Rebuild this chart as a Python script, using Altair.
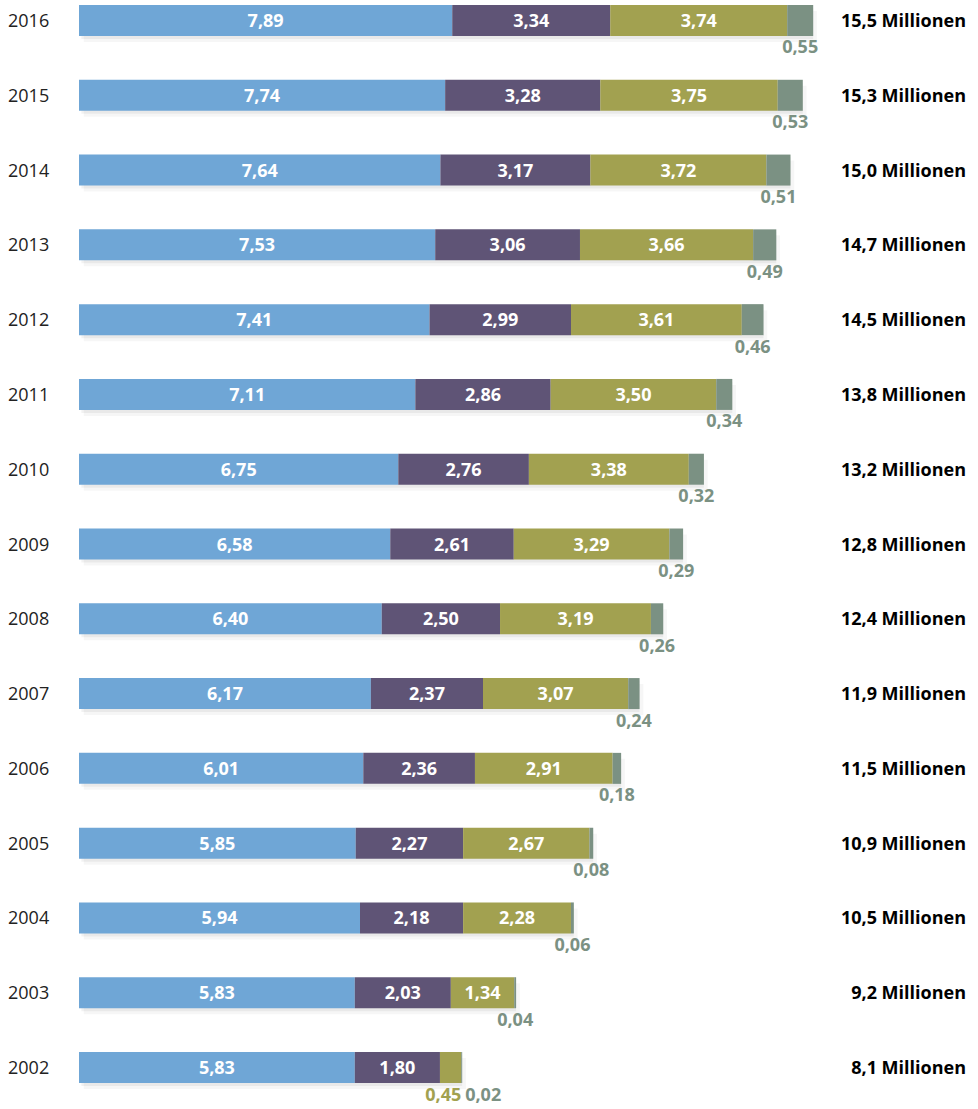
import altair as alt
import pandas as pd

years = ["2016", "2015", "2014", "2013", "2012", "2011", "2010", "2009",
         "2008", "2007", "2006", "2005", "2004", "2003", "2002"]
seg1 = [7.89, 7.74, 7.64, 7.53, 7.41, 7.11, 6.75, 6.58, 6.40, 6.17, 6.01, 5.85, 5.94, 5.83, 5.83]
seg2 = [3.34, 3.28, 3.17, 3.06, 2.99, 2.86, 2.76, 2.61, 2.50, 2.37, 2.36, 2.27, 2.18, 2.03, 1.80]
seg3 = [3.74, 3.75, 3.72, 3.66, 3.61, 3.50, 3.38, 3.29, 3.19, 3.07, 2.91, 2.67, 2.28, 1.34, 0.45]
seg4 = [0.55, 0.53, 0.51, 0.49, 0.46, 0.34, 0.32, 0.29, 0.26, 0.24, 0.18, 0.08, 0.06, 0.04, 0.02]
totals = [15.5, 15.3, 15.0, 14.7, 14.5, 13.8, 13.2, 12.8, 12.4, 11.9, 11.5, 10.9, 10.5, 9.2, 8.1]

segments = ["A", "B", "C", "D"]
colors = ["#6fa6d6", "#5f5476", "#a2a150", "#7b9183"]

def de(v, d=2):
    return f"{v:.{d}f}".replace(".", ",")

rows = []
for i, y in enumerate(years):
    start = 0.0
    for s, vals in zip(segments, [seg1, seg2, seg3, seg4]):
        v = vals[i]
        rows.append({"year": y, "seg": s, "value": v, "start": start,
                     "end": start + v, "mid": start + v / 2, "label": de(v),
                     "order": i})
        start += v
df = pd.DataFrame(rows)

tot_df = pd.DataFrame({"year": years,
                       "sum": [a + b + c + d for a, b, c, d in zip(seg1, seg2, seg3, seg4)],
                       "label": [de(t, 1) + " Millionen" for t in totals]})

W, H = 887, 1088
xs = alt.Scale(domain=[0, 18.75], nice=False, zero=True)
ys = alt.Scale(domain=years, paddingInner=0.5856, paddingOuter=0.0668)
Y = alt.Y("year:N", scale=ys, axis=None, sort=years)
FONT = "Open Sans"
FS = 18

base = alt.Chart(df)

shadow1 = alt.Chart(tot_df).mark_bar(color="#000000", opacity=0.05, yOffset=3).encode(
    x=alt.X("sum0:Q", scale=xs, axis=None), x2=alt.X2("sum:Q"), y=Y
).transform_calculate(sum0="0.05")
shadow2 = alt.Chart(tot_df).mark_bar(color="#000000", opacity=0.035, yOffset=6).encode(
    x=alt.X("sum0:Q", scale=xs, axis=None), x2=alt.X2("sumx:Q"), y=Y
).transform_calculate(sum0="0.1", sumx="datum.sum + 0.08")

bars = base.mark_bar().encode(
    x=alt.X("start:Q", scale=xs, axis=None),
    x2="end:Q",
    y=Y,
    color=alt.Color("seg:N", scale=alt.Scale(domain=segments, range=colors), legend=None),
)

inside = base.transform_filter(
    "datum.seg != 'D' && datum.value >= 1"
).mark_text(color="white", font=FONT, fontWeight="bold", fontSize=FS, align="center", baseline="middle", dy=1.5).encode(
    x=alt.X("mid:Q", scale=xs), y=Y, text="label:N"
)

below4 = base.transform_filter(
    "datum.seg == 'D' && datum.year != '2002'"
).mark_text(color="#7b9183", font=FONT, fontWeight="bold", fontSize=FS, align="center", baseline="middle", dy=28).encode(
    x=alt.X("mid:Q", scale=xs), y=Y, text="label:N"
)

small3 = base.transform_filter(
    "datum.seg == 'C' && datum.value < 1"
).mark_text(color="#a2a150", font=FONT, fontWeight="bold", fontSize=FS, align="right", baseline="middle", dy=28, dx=0).encode(
    x=alt.X("end:Q", scale=xs), y=Y, text="label:N"
)

small4 = base.transform_filter(
    "datum.seg == 'D' && datum.year == '2002'"
).mark_text(color="#7b9183", font=FONT, fontWeight="bold", fontSize=FS, align="left", baseline="middle", dy=28, dx=3).encode(
    x=alt.X("end:Q", scale=xs), y=Y, text="label:N"
)

year_labels = alt.Chart(tot_df).mark_text(color="#222222", font=FONT, fontSize=FS, align="left", baseline="middle", dy=1.5).encode(
    x=alt.value(-71), y=Y, text="year:N"
)

total_labels = alt.Chart(tot_df).mark_text(color="#000000", font=FONT, fontWeight="bold", fontSize=FS, align="right", baseline="middle", dy=1.5).encode(
    x=alt.value(887), y=Y, text="label:N"
)

chart = alt.layer(shadow2, shadow1, bars, inside, below4, small3, small4, year_labels, total_labels).properties(
    width=W, height=H,
    autosize=alt.AutoSizeParams(type="none"),
    padding={"left": 79, "top": 0, "right": 12, "bottom": 21},
).configure_view(stroke=None)

chart.save("out.html", embed_options={"renderer": "svg", "actions": False})
